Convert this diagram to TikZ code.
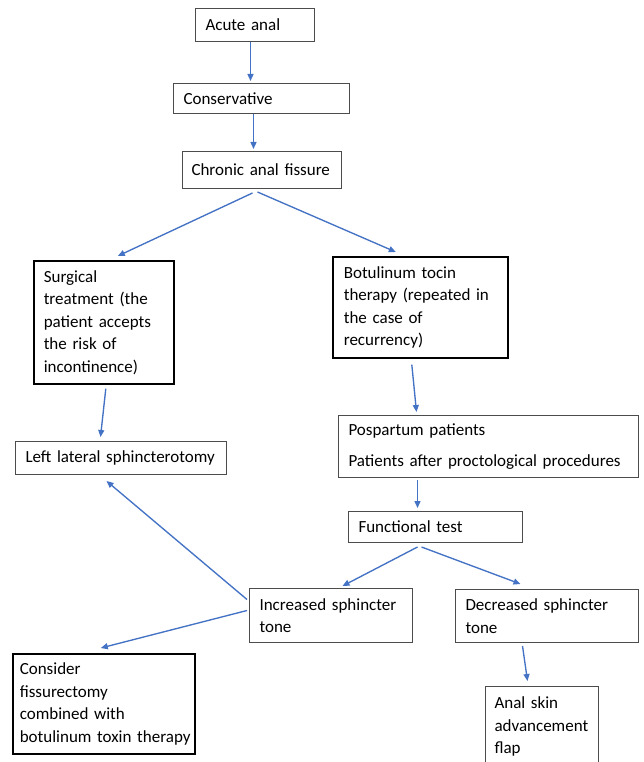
\documentclass[tikz,border=0pt]{standalone}
\usepackage{fontspec}
\setmainfont{Carlito}
\usetikzlibrary{arrows.meta,calc}
\definecolor{arrblue}{HTML}{4472C4}
\hyphenpenalty=10000
\exhyphenpenalty=10000
\begin{document}
\begin{tikzpicture}[x=1pt,y=-1pt,
  every node/.style={font=\fontsize{17}{22.5}\selectfont},
  box/.style={draw=black!70, line width=1pt, anchor=north west, inner sep=0pt, align=left},
  boldbox/.style={box, draw=black, line width=1.6pt},
  arr/.style={draw=arrblue, line width=1.35pt, -{Triangle[length=7pt,width=6pt]}}]
\clip (0,0) rectangle (644,762);
\fill[white] (0,0) rectangle (644,762);

\node[box, minimum width=119, minimum height=33, text width=99] (acute) at (195,8) {Acute anal};
\node[box, minimum width=176, minimum height=30, text width=156] (cons) at (173,83) {Conservative};
\node[box, minimum width=159, minimum height=37, text width=141] (chronic) at (182,151) {Chronic anal fissure};
\node[boldbox, minimum width=140, minimum height=123, text width=120] (surg) at (33,260) {Surgical\\treatment (the\\patient accepts\\the risk of\\incontinence)};
\node[boldbox, minimum width=175, minimum height=101, text width=153] (botu) at (332,256) {Botulinum tocin\\therapy (repeated in\\the case of\\recurrency)};
\node[box, minimum width=211, minimum height=33, text width=191] (left) at (15,441) {Left lateral sphincterotomy};
\node[box, minimum width=300, minimum height=62, text width=280] (posp) at (338,415) {Pospartum patients\\[8.5pt]Patients after proctological procedures};
\node[box, minimum width=174, minimum height=31, text width=154] (func) at (348,511) {Functional test};
\node[box, minimum width=163, minimum height=54, text width=143] (incr) at (249,588) {Increased sphincter\\tone};
\node[box, minimum width=183, minimum height=53, text width=163] (decr) at (455,589) {Decreased sphincter\\tone};
\node[boldbox, minimum width=182, minimum height=100, text width=178] (consider) at (12,653) {\hspace*{5pt}Consider\\\hspace*{5pt}fissurectomy\\\hspace*{5pt}combined with\\\hspace*{5pt}botulinum toxin therapy};
\node[box, minimum width=113, minimum height=80, text width=95] (anal) at (485,686) {Anal skin\\advancement\\flap};

\draw[arr] ([shift={(-4.5,0)}]acute.south) -- ([shift={(-4.5,-2)}]acute.south |- cons.north);
\draw[arr] ([shift={(-8,0)}]cons.south) -- ([shift={(-8,-2)}]cons.south |- chronic.north);
\draw[arr] ([shift={(-9.5,4)}]chronic.south) -- ([shift={(14,-4)}]surg.north);
\draw[arr] ([shift={(-4.5,3)}]chronic.south) -- ([shift={(-24.5,-4)}]botu.north);
\draw[arr] ([shift={(2,4)}]surg.south) -- ([shift={(-20.5,-4)}]left.north);
\draw[arr] ([shift={(-8.5,6)}]botu.south) -- ([shift={(-72,-3)}]posp.north);
\draw[arr] ([shift={(-71,2)}]posp.south) -- ([shift={(-18,-3)}]func.north);
\draw[arr] ([shift={(-18,4)}]func.south) -- ([shift={(11.5,-2)}]incr.north);
\draw[arr] ([shift={(-14,4)}]func.south) -- ([shift={(-26.5,-5)}]decr.north);
\draw[arr] ([shift={(-2,-16)}]incr.west) -- ([shift={(-14.5,6)}]left.south);
\draw[arr] ([shift={(-2,-5)}]incr.west) -- ([shift={(-3,-5)}]consider.north);
\draw[arr] ([shift={(-24.5,3)}]decr.south) -- ([shift={(-14.5,-5)}]anal.north);
\end{tikzpicture}
\end{document}
